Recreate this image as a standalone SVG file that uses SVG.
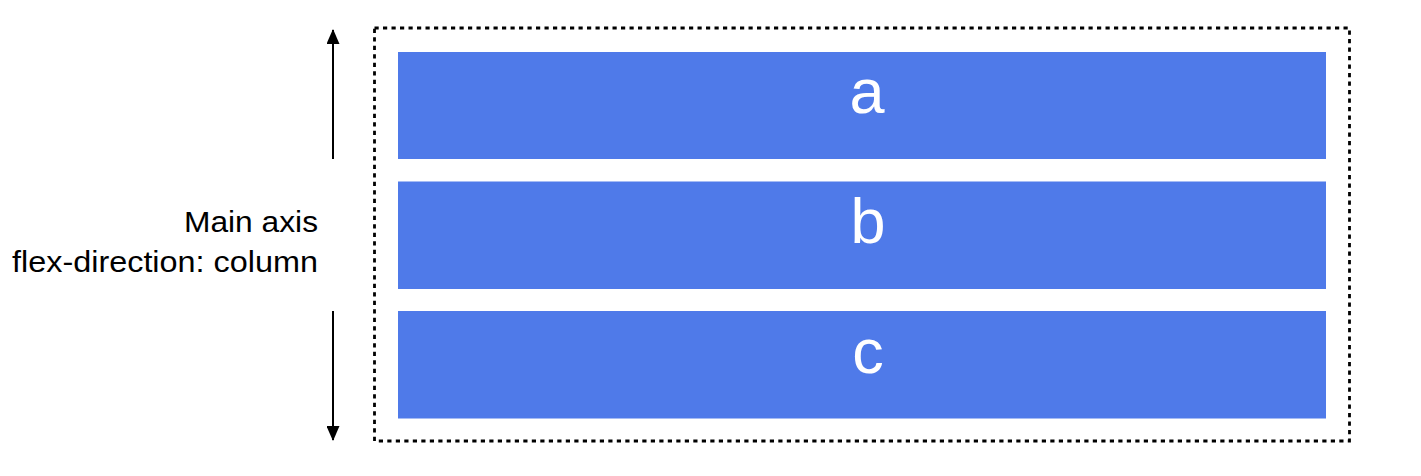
<svg xmlns="http://www.w3.org/2000/svg" width="1421" height="476" viewBox="0 0 1421 476">
<style>
.box{fill:#4f7ae9}
.lbl{font-family:"Liberation Sans",Arial,sans-serif;font-size:63px;fill:#ffffff;text-anchor:middle}
.axis{font-family:"Liberation Sans",Arial,sans-serif;font-size:29.5px;fill:#000000;text-anchor:end}
.ax{stroke:#000;stroke-width:2;fill:none}
</style>
<defs>
<marker id="ah" viewBox="0 0 15 13" refX="14" refY="6.5" markerWidth="15" markerHeight="13" markerUnits="userSpaceOnUse" orient="auto">
<path d="M0,0 L15,6.5 L0,13 Z" fill="#000"/>
</marker>
</defs>
<rect width="1421" height="476" fill="#ffffff"/>
<g id="container">
<rect x="374.5" y="28" width="975" height="413" fill="none" stroke="#000" stroke-width="2.8" stroke-dasharray="4.2 4.3"/>
</g>
<g id="node-a">
<rect class="box" x="398" y="52" width="928" height="107"/>
<text class="lbl" x="867" y="113">a</text>
</g>
<g id="node-b">
<rect class="box" x="398" y="181.5" width="928" height="107.5"/>
<text class="lbl" x="868" y="243">b</text>
</g>
<g id="node-c">
<rect class="box" x="398" y="311" width="928" height="107.5"/>
<text class="lbl" x="868" y="373">c</text>
</g>
<g id="label">
<text class="axis" x="318" y="232" textLength="134" lengthAdjust="spacingAndGlyphs">Main axis</text>
<text class="axis" x="318" y="272" textLength="306" lengthAdjust="spacingAndGlyphs">flex-direction: column</text>
</g>
<g id="connectors">
<line class="ax" x1="333" y1="159" x2="333" y2="30" marker-end="url(#ah)"/>
<line class="ax" x1="333" y1="311" x2="333" y2="440" marker-end="url(#ah)"/>
</g>
</svg>
